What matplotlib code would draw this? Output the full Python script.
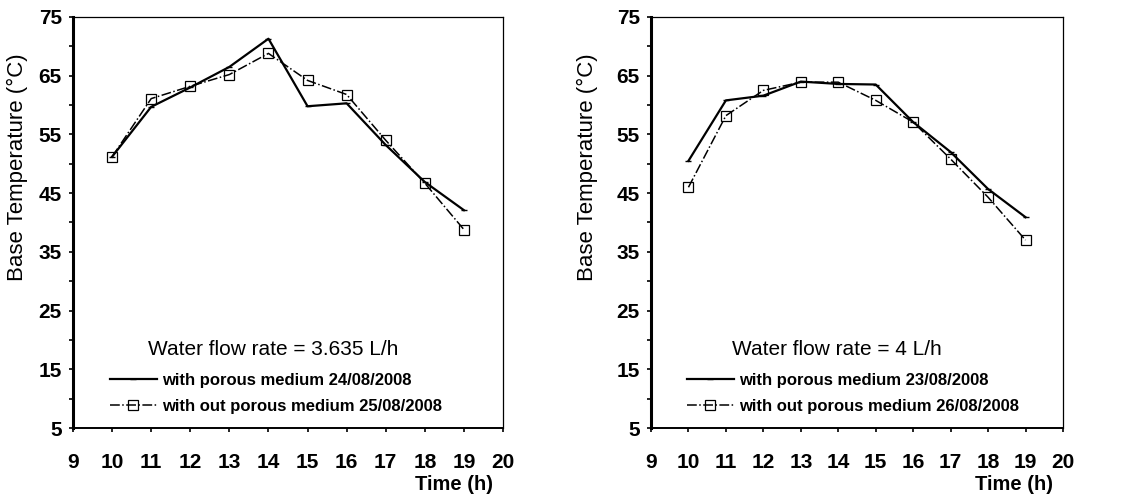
import matplotlib.pyplot as plt
import numpy as np

hours = [10, 11, 12, 13, 14, 15, 16, 17, 18, 19]

# 3.635 L/h
with_a = [51.2, 59.7, 63.0, 66.5, 71.3, 59.8, 60.3, 53.2, 46.9, 42.1]
without_a = [51.2, 61.1, 63.2, 65.2, 68.8, 64.2, 61.8, 54.0, 46.7, 38.8]

# 4 L/h
with_b = [50.5, 60.8, 61.6, 64.0, 63.6, 63.5, 57.1, 52.0, 45.7, 40.9]
without_b = [46.0, 58.2, 62.5, 63.9, 63.9, 60.8, 57.1, 50.8, 44.3, 37.0]

panels = [
    ('Water flow rate = 3.635 L/h', with_a, without_a,
     'with porous medium 24/08/2008', 'with out porous medium 25/08/2008'),
    ('Water flow rate = 4 L/h', with_b, without_b,
     'with porous medium 23/08/2008', 'with out porous medium 26/08/2008'),
]

plt.rcParams['font.family'] = ['Liberation Sans', 'DejaVu Sans']

W, H = 1126, 499
fig = plt.figure(figsize=(W / 100, H / 100), dpi=100)

# axes boxes in pixels: left, right, ylabel x, time label right edge,
# title x (axes fraction), legend x (axes fraction)
layout = [(73, 503, 17, 493, 0.465, 0.086),
          (651, 1063, 587, 1053, 0.45, 0.087)]
top, bottom = 17, 428

for (l, r, ylx, tx, ttx, lgx), (title, w, wo, lab1, lab2) in zip(layout, panels):
    ax = fig.add_axes([l / W, 1 - bottom / H, (r - l) / W, (bottom - top) / H])
    ax.plot(hours, w, '-', color='black', lw=1.6, marker='_', ms=4,
            label=lab1)
    ax.plot(hours, wo, '-.', color='black', lw=1.1, marker='s', ms=7.5,
            mfc='none', mew=0.9, label=lab2)
    ax.set_xlim(9, 20)
    ax.set_ylim(5, 75)
    ax.set_xticks(range(9, 21))
    ax.set_yticks(range(5, 76, 10))
    ax.set_yticks(range(10, 75, 10), minor=True)
    ax.tick_params(direction='out', length=3, width=1.2, labelsize=15)
    ax.tick_params(axis='x', pad=15)
    ax.tick_params(axis='y', pad=5)
    ax.tick_params(axis='y', which='minor', direction='out', length=3,
                   width=1.2)
    for lbl in ax.get_xticklabels() + ax.get_yticklabels():
        lbl.set_fontweight('bold')
    ax.spines['left'].set_linewidth(2.2)
    ax.spines['bottom'].set_linewidth(1.4)
    ax.spines['top'].set_linewidth(0.9)
    ax.spines['right'].set_linewidth(0.9)

    fig.text(ylx / W, 1 - 167 / H, 'Base Temperature (°C)', rotation=90,
             ha='center', va='center', fontsize=16)
    fig.text(tx / W, 1 - 484 / H, 'Time (h)', ha='right', va='center',
             fontsize=14.5, fontweight='bold')

    ax.text(ttx, 0.19, title, transform=ax.transAxes, ha='center',
            va='center', fontsize=15)
    leg = ax.legend(loc='lower left', bbox_to_anchor=(lgx, 0.035),
                    frameon=False, fontsize=12, handlelength=2.8,
                    handletextpad=0.35, labelspacing=0.65,
                    borderaxespad=0.0, borderpad=0.0)
    for t in leg.get_texts():
        t.set_fontweight('bold')

fig.savefig('out.png', dpi=100)
